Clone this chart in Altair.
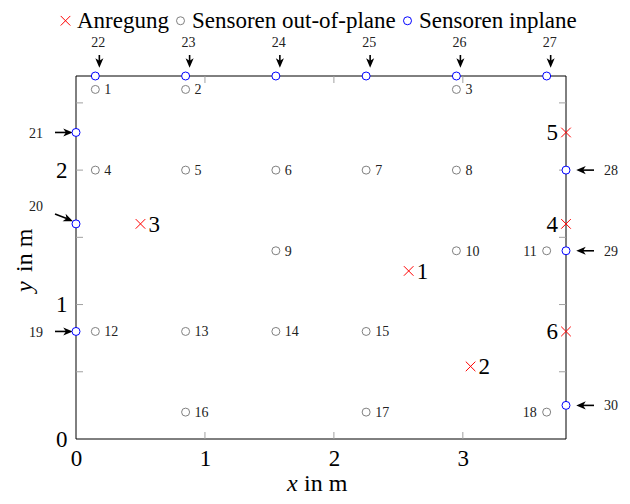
import altair as alt
import pandas as pd

# ---------------- data ----------------
KINDS = ["Anregung", "Sensoren out-of-plane", "Sensoren inplane"]

# excitation points (Anregung)
exc_id = [1, 2, 3, 4, 5, 6]
exc_x = [2.58, 3.06, 0.50, 3.80, 3.80, 3.80]
exc_y = [1.25, 0.54, 1.60, 1.60, 2.28, 0.80]

# out-of-plane sensors
oop_id = list(range(1, 19))
oop_x = [0.15, 0.85, 2.95, 0.15, 0.85, 1.55, 2.25, 2.95, 1.55, 2.95, 3.65,
         0.15, 0.85, 1.55, 2.25, 0.85, 2.25, 3.65]
oop_y = [2.60, 2.60, 2.60, 2.00, 2.00, 2.00, 2.00, 2.00, 1.40, 1.40, 1.40,
         0.80, 0.80, 0.80, 0.80, 0.20, 0.20, 0.20]

# in-plane sensors
inp_id = list(range(19, 31))
inp_x = [0.00, 0.00, 0.00, 0.15, 0.85, 1.55, 2.25, 2.95, 3.65, 3.80, 3.80, 3.80]
inp_y = [0.80, 1.60, 2.28, 2.70, 2.70, 2.70, 2.70, 2.70, 2.70, 2.00, 1.40, 0.25]

# arrow groups (which in-plane sensors get which arrow)
arrow_top = [22, 23, 24, 25, 26, 27]
arrow_left = [19, 21]
arrow_diag = [20]
arrow_right = [28, 29, 30]

# label sides
oop_left_labels = [11, 18]
exc_left_labels = [4, 5, 6]

x_labels = [0, 1, 2, 3]
y_labels = [0, 1, 2]
x_ticks = [1, 2, 3]
y_ticks = [0.5, 1.0, 1.5, 2.0, 2.5]

# ---------------- tables ----------------
rows = []
for i, x, y in zip(exc_id, exc_x, exc_y):
    rows.append(dict(kind=KINDS[0], id=i, label=str(i), x=x, y=y))
for i, x, y in zip(oop_id, oop_x, oop_y):
    rows.append(dict(kind=KINDS[1], id=i, label=str(i), x=x, y=y))
for i, x, y in zip(inp_id, inp_x, inp_y):
    rows.append(dict(kind=KINDS[2], id=i, label=str(i), x=x, y=y))
df = pd.DataFrame(rows)

exc_df = df[df.kind == KINDS[0]]
oop_df = df[df.kind == KINDS[1]]
inp_df = df[df.kind == KINDS[2]]

FONT = "Liberation Serif"
W, H = 490, 363

xs = alt.Scale(domain=[0, 3.8], nice=False, zero=False)
ys = alt.Scale(domain=[0, 2.7], nice=False, zero=False)
X = alt.X("x:Q", scale=xs, axis=alt.Axis(values=x_labels, title=None, grid=False, ticks=False,
                                          domain=False, labelFont=FONT, labelFontSize=23,
                                          labelPadding=8, labelColor="black", format="d",
                                          labelFlush=False))
Y = alt.Y("y:Q", scale=ys, axis=alt.Axis(values=y_labels, title=None, grid=False, ticks=False,
                                          domain=False, labelFont=FONT, labelFontSize=23,
                                          labelPadding=9, labelColor="black", format="d",
                                          labelFlush=False))

cross = "M-1.2,-1.2L1.2,1.2M-1.2,1.2L1.2,-1.2"
arrow = "M1,0L-1,-0.85L-0.45,0L-1,0.85Z"

leg = alt.Legend(orient="none", legendX=-22, legendY=-67, direction="horizontal", title=None,
                 labelFont=FONT, labelFontSize=23, labelColor="black", columnPadding=0,
                 labelOffset=0, symbolStrokeWidth=1, padding=0, symbolSize=64, labelLimit=0)

frame = alt.Chart(pd.DataFrame({"a": [0]})).mark_rect(fill=None, stroke="black", strokeWidth=1).encode(
    x=alt.value(0), x2=alt.value(W), y=alt.value(0), y2=alt.value(H))

yt = pd.DataFrame({"y": y_ticks})
xt = pd.DataFrame({"x": x_ticks})
tick_col = "#a0a0a0"
ytick_l = alt.Chart(yt).mark_rule(color=tick_col).encode(y=Y, x=alt.value(0), x2=alt.value(7))
ytick_r = alt.Chart(yt).mark_rule(color=tick_col).encode(y=Y, x=alt.value(W - 7), x2=alt.value(W))
xtick_b = alt.Chart(xt).mark_rule(color=tick_col).encode(x=X, y=alt.value(H), y2=alt.value(H - 7))
xtick_t = alt.Chart(xt).mark_rule(color=tick_col).encode(x=X, y=alt.value(0), y2=alt.value(7))

points = alt.Chart(df).mark_point(filled=False, fill="white", size=64, strokeWidth=1, opacity=1).encode(
    x=X, y=Y,
    color=alt.Color("kind:N", scale=alt.Scale(domain=KINDS, range=["#ff0000", "#808080", "#0000ff"]), legend=leg),
    shape=alt.Shape("kind:N", scale=alt.Scale(domain=KINDS, range=[cross, "circle", "circle"]), legend=leg),
)

# labels of out-of-plane sensors
oop_r = alt.Chart(oop_df).transform_filter(
    ~alt.FieldOneOfPredicate(field="id", oneOf=oop_left_labels)
).mark_text(font=FONT, fontSize=14, align="left", dx=9, dy=1, color="#222").encode(x=X, y=Y, text="label:N")
oop_l = alt.Chart(oop_df).transform_filter(
    alt.FieldOneOfPredicate(field="id", oneOf=oop_left_labels)
).mark_text(font=FONT, fontSize=14, align="right", dx=-10, dy=1, color="#222").encode(x=X, y=Y, text="label:N")

# excitation labels
exc_r = alt.Chart(exc_df).transform_filter(
    ~alt.FieldOneOfPredicate(field="id", oneOf=exc_left_labels)
).mark_text(font=FONT, fontSize=23, align="left", dx=8, dy=1, color="black").encode(x=X, y=Y, text="label:N")
exc_l = alt.Chart(exc_df).transform_filter(
    alt.FieldOneOfPredicate(field="id", oneOf=exc_left_labels)
).mark_text(font=FONT, fontSize=23, align="right", dx=-8, dy=1, color="black").encode(x=X, y=Y, text="label:N")


def group(ids):
    return alt.Chart(inp_df).transform_filter(alt.FieldOneOfPredicate(field="id", oneOf=ids))


SW = 1.6
HS = 90
# top arrows (pointing down)
top_stem = group(arrow_top).mark_rule(color="black", strokeWidth=SW, xOffset=4, x2Offset=4,
                                      yOffset=-21, y2Offset=-13).encode(x=X, x2="x", y=Y, y2="y")
top_head = group(arrow_top).mark_point(shape=arrow, filled=True, color="black", size=HS, angle=90,
                                       xOffset=4, yOffset=-13, strokeWidth=0, opacity=1).encode(x=X, y=Y)
top_lab = group(arrow_top).mark_text(font=FONT, fontSize=14, color="#222", xOffset=3, yOffset=-33).encode(
    x=X, y=Y, text="label:N")

# left arrows (pointing right)
left_stem = group(arrow_left).mark_rule(color="black", strokeWidth=SW, xOffset=-21, x2Offset=-9).encode(
    x=X, x2="x", y=Y, y2="y")
left_head = group(arrow_left).mark_point(shape=arrow, filled=True, color="black", size=HS, angle=0,
                                         xOffset=-8, strokeWidth=0, opacity=1).encode(x=X, y=Y)
left_lab = group(arrow_left).mark_text(font=FONT, fontSize=14, color="#222", xOffset=-40, yOffset=2).encode(
    x=X, y=Y, text="label:N")

# diagonal arrow
diag_stem = group(arrow_diag).mark_rule(color="black", strokeWidth=SW, xOffset=-21, yOffset=-10,
                                        x2Offset=-8, y2Offset=-5).encode(x=X, x2="x", y=Y, y2="y")
diag_head = group(arrow_diag).mark_point(shape=arrow, filled=True, color="black", size=HS, angle=22,
                                         xOffset=-7.5, yOffset=-4.5, strokeWidth=0, opacity=1).encode(x=X, y=Y)
diag_lab = group(arrow_diag).mark_text(font=FONT, fontSize=14, color="#222", xOffset=-40, yOffset=-17).encode(
    x=X, y=Y, text="label:N")

# right arrows (pointing left)
right_stem = group(arrow_right).mark_rule(color="black", strokeWidth=SW, xOffset=28, x2Offset=16).encode(
    x=X, x2="x", y=Y, y2="y")
right_head = group(arrow_right).mark_point(shape=arrow, filled=True, color="black", size=HS, angle=180,
                                           xOffset=15, strokeWidth=0, opacity=1).encode(x=X, y=Y)
right_lab = group(arrow_right).mark_text(font=FONT, fontSize=14, color="#222", xOffset=45, yOffset=1).encode(
    x=X, y=Y, text="label:N")

# axis titles
one = pd.DataFrame({"a": [0]})
xt_i = alt.Chart(one).mark_text(text="x", font=FONT, fontSize=24, fontStyle="italic", align="left",
                                baseline="alphabetic", color="black").encode(x=alt.value(211), y=alt.value(415))
xt_r = alt.Chart(one).mark_text(text="in m", font=FONT, fontSize=24, align="left",
                                baseline="alphabetic", color="black").encode(x=alt.value(228), y=alt.value(415))
yt_i = alt.Chart(one).mark_text(text="y", font=FONT, fontSize=24, fontStyle="italic", align="left", angle=270,
                                baseline="alphabetic", color="black").encode(x=alt.value(-44), y=alt.value(216))
yt_r = alt.Chart(one).mark_text(text="in m", font=FONT, fontSize=24, align="left", angle=270,
                                baseline="alphabetic", color="black").encode(x=alt.value(-44), y=alt.value(196))

chart = alt.layer(
    frame, ytick_l, ytick_r, xtick_b, xtick_t,
    top_stem, left_stem, diag_stem, right_stem,
    top_head, left_head, diag_head, right_head,
    points, oop_r, oop_l, exc_r, exc_l, top_lab, left_lab, diag_lab, right_lab,
    xt_i, xt_r, yt_i, yt_r,
).properties(
    width=W, height=H,
    autosize=alt.AutoSizeParams(type="none"),
    padding={"left": 68, "top": 68, "right": 56, "bottom": 57},
).configure_view(stroke=None)

chart.save("out.html", embed_options={"renderer": "svg", "actions": False})
